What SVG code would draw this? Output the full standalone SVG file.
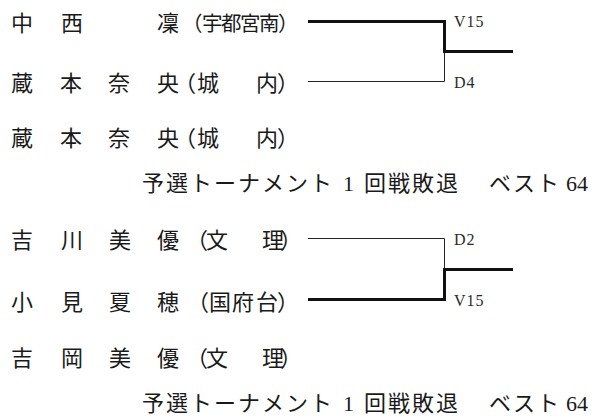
<svg xmlns="http://www.w3.org/2000/svg" width="595" height="417" viewBox="0 0 595 417">
<style>
.t{font-family:"Liberation Serif","Noto Sans CJK JP",serif;font-size:22px;fill:#1a1a1a}
.s{font-size:20.5px}
.lb{font-family:"Liberation Serif",serif;font-size:16px;fill:#2a2a2a;letter-spacing:1px}
.thin{stroke:#222;stroke-width:1;fill:none}
.thick{stroke:#111;stroke-width:3;fill:none}
</style>
<rect width="595" height="417" fill="#fff"/>
<g id="row1">
<text class="t" y="31"><tspan x="11 61 157">中西凜</tspan><tspan class="s" x="182 202 221 240 259 278">（宇都宮南）</tspan></text>
</g>
<g id="row2">
<text class="t" x="11 60 108 157 174 197 256 277" y="91">蔵本奈央（城内）</text>
</g>
<g id="row3">
<text class="t" x="11 60 108 157 174 197 256 277" y="146">蔵本奈央（城内）</text>
</g>
<g id="result1">
<text class="t" x="142 166 190 214 238 262 286 310 343 364 388 412 436 489 513 537 566 577" y="191">予選トーナメント1回戦敗退ベスト64</text>
</g>
<g id="row5">
<text class="t" x="11 61 109 157 186 206 262 280" y="248">吉川美優（文理）</text>
</g>
<g id="row6">
<text class="t" x="11 61 109 157 187 209 232 256 277" y="310">小見夏穂（国府台）</text>
</g>
<g id="row7">
<text class="t" x="11 61 109 157 186 206 262 280" y="366">吉岡美優（文理）</text>
</g>
<g id="result2">
<text class="t" x="142 166 190 214 238 262 286 310 343 364 388 412 436 489 513 537 566 577" y="411">予選トーナメント1回戦敗退ベスト64</text>
</g>
<g id="connectors">
<path class="thin" d="M308 81.5H444.5V51.5"/>
<path class="thick" d="M308 21.5H444.5V51.5H513"/>
<path class="thin" d="M308 238.5H444.5V269.5"/>
<path class="thick" d="M308 299.5H444.5V269.5H513"/>
</g>
<g id="labels">
<text class="lb" x="454" y="27">V15</text>
<text class="lb" x="454" y="88">D4</text>
<text class="lb" x="454" y="245">D2</text>
<text class="lb" x="454" y="306">V15</text>
</g>
</svg>
